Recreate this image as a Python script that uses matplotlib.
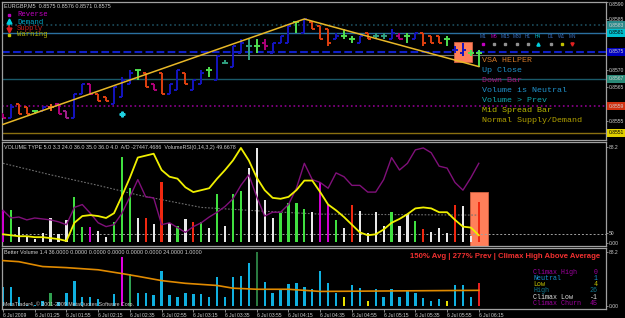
import matplotlib
matplotlib.use("Agg")
import matplotlib.pyplot as plt
import matplotlib.transforms as mtransforms
from matplotlib.patches import Rectangle

# canvas in pixels, as the terminal screenshot
W, H = 625, 318
FRAME = '#a0a0a0'
TXT = '#d0d0d0'
MONO = 'Liberation Mono'
NARROW = 'Liberation Sans'

# ---- price bars (EURGBP, M5) ----
high = [.8557, .8560, .8560, .8559, .8558, .8559, .8560, .8560, .8558, .8563,
        .8566, .8566, .8563, .8562, .8565, .8568, .8570, .8570, .8569, .8566,
        .8569, .8566, .8570, .8569, .8567, .8570, .8571, .8574, .8573, .8577,
        .8579, .8579, .8579, .8579, .8578, .8580, .8583, .8584, .8585, .8584,
        .8583, .8582, .8581, .8582, .8580, .8580, .8581, .8581, .8581, .8582,
        .8581, .8581, .8581, .8581, .8580, .8580, .8580, .8577, .8578, .8576,
        .8576]
low = [.8556, .8556, .8557, .8557, .8557, .8558, .8558, .8557, .8556, .8556,
       .8563, .8563, .8561, .8561, .8560, .8562, .8566, .8567, .8565, .8564,
       .8563, .8563, .8564, .8566, .8564, .8566, .8568, .8567, .8572, .8571,
       .8575, .8573, .8575, .8576, .8575, .8578, .8578, .8581, .8581, .8582,
       .8579, .8577, .8579, .8579, .8578, .8578, .8579, .8579, .8579, .8579,
       .8579, .8578, .8579, .8577, .8578, .8578, .8577, .8575, .8574, .8574,
       .8571]
opens = [.8557, .8556, .8560, .8559, .8558, .8558, .8559, .8560, .8558, .8556,
         .8563, .8566, .8563, .8562, .8560, .8562, .8566, .8570, .8569, .8566,
         .8569, .8563, .8564, .8569, .8564, .8566, .8570, .8567, .8572, .8571,
         .8575, .8577, .8577, .8578, .8575, .8578, .8578, .8584, .8581, .8584,
         .8583, .8582, .8579, .8580, .8579, .8578, .8581, .8580, .8580, .8579,
         .8580, .8580, .8579, .8581, .8580, .8580, .8579, .8576, .8575, .8575,
         .8575]
closes = [.8556, .8559, .8557, .8557, .8558, .8559, .8559, .8557, .8556, .8563,
          .8566, .8563, .8561, .8561, .8565, .8567, .8569, .8570, .8565, .8564,
          .8563, .8566, .8570, .8566, .8567, .8569, .8570, .8574, .8572, .8577,
          .8578, .8577, .8577, .8577, .8578, .8580, .8583, .8584, .8585, .8582,
          .8579, .8578, .8580, .8580, .8579, .8580, .8579, .8580, .8580, .8581,
          .8579, .8580, .8581, .8578, .8578, .8578, .8579, .8576, .8576, .8575,
          .8575]
bar_type = list("MBRRGBOMPBBMRRBBBGRMRBBRBBGBTBBTGMBBBGBRRRBGGBRTTBMGBRRRGBBGG")
bar_colors = {'B': '#1414c0', 'R': '#e04010', 'G': '#50e050', 'T': '#30a080',
              'M': '#b0007a', 'O': '#f06020', 'P': '#a0208a'}

trend_x = [0, 38, 60]
trend_y = [0.8554, 0.8585, 0.8571]

levels = [0.85832, 0.85809, 0.85753, 0.85743, 0.85674, 0.85594, 0.85515]
level_style = [('#1c4c5c', ':', 1.2), ('#2a70a0', '-', 1.0), ('#1020c8', '--', 1.5),
               ('#707070', '-', 0.8), ('#1a5a6a', '-', 1.0), ('#900090', ':', 1.2),
               ('#8a7010', '-', 1.0)]
level_tags = [(0.85832, '#2a8a8a'), (0.85809, '#00c0d0'), (0.85753, '#0000c0'),
              (0.85674, '#2a8a78'), (0.85594, '#d03010'), (0.85515, '#e0d000')]
price_ticks = [0.8555, 0.8565, 0.8570, 0.8585, 0.8590]

demand_idx = [15]
demand_px = [0.8557]

times = ["6 Jul 2009", "6 Jul 01:25", "6 Jul 01:55", "6 Jul 02:15", "6 Jul 02:35",
         "6 Jul 02:55", "6 Jul 03:15", "6 Jul 03:35", "6 Jul 03:55", "6 Jul 04:15",
         "6 Jul 04:35", "6 Jul 04:55", "6 Jul 05:15", "6 Jul 05:35", "6 Jul 05:55",
         "6 Jul 06:15"]

# ---- volume type pane ----
vol = [33, 33, 16, 5, 3, 9, 25, 8, 23, 47, 16, 16, 11, 5, 21, 89, 56, 25, 25, 19,
       62, 20, 17, 24, 21, 21, 15, 50, 17, 50, 53, 77, 98, 44, 25, 30, 41, 41, 34, 31,
       62, 39, 23, 15, 39, 32, 9, 31, 17, 31, 17, 29, 22, 14, 10, 15, 9, 39, 38, 6, 42]
vol_type = list("MGWWWWWWWGGMWWGGGWRWRWGWRGWGWGGWWWWGGGGWMMGWRWWWWGWWGRWWWRWWR")
vol_colors = {'W': '#e8e8e8', 'G': '#40e040', 'R': '#f02810', 'M': '#d000d0'}
vol_rsi = [8, 7, 6, 6, 5, 5, 4, 3, 1, 20, 27, 28, 27, 25, 30, 48, 67, 88, 90, 92,
           75, 68, 66, 57, 52, 54, 56, 66, 75, 85, 98, 85, 67, 54, 46, 45, 47, 54, 64, 64,
           52, 39, 33, 26, 18, 10, 7, 8, 13, 20, 24, 29, 35, 36, 35, 31, 31, 23, 16, 15, 7]
vol_ad = [33, 25, 26, 23, 25, 24, 23, 21, 18, 36, 39, 30, 20, 16, 18, 30, 47, 65, 47, 46,
          18, 20, 15, 10, 16, 20, 26, 31, 37, 45, 59, 70, 47, 27, 31, 31, 39, 56, 82, 65,
          62, 56, 72, 68, 59, 59, 52, 52, 65, 88, 75, 82, 96, 98, 93, 79, 77, 62, 54, 67, 82]
vol_ma_x = [0, 6, 12, 17, 25, 33, 40, 60]
vol_ma = [82, 70, 59, 49, 36, 32, 29, 28]
rsi_mid = 8.3

# ---- better volume pane ----
bv = [35, 35, 16, 2, 2, 9, 25, 7, 24, 47, 16, 16, 13, 0, 22, 91, 60, 25, 25, 20,
      65, 20, 16, 25, 22, 22, 16, 53, 16, 53, 55, 80, 100, 45, 25, 29, 40, 42, 35, 31,
      65, 42, 25, 16, 38, 33, 9, 31, 16, 31, 16, 29, 24, 15, 9, 13, 9, 38, 38, 16, 42]
bv_type = ['C'] * len(bv)
for i, t in [(6, 'G'), (15, 'M'), (16, 'G'), (32, 'D'), (43, 'Y'), (46, 'Y'), (56, 'Y'), (60, 'R')]:
    bv_type[i] = t
bv_colors = {'C': '#10b0e0', 'G': '#30a050', 'D': '#2a7a40', 'M': '#e000e0',
             'Y': '#e8e000', 'R': '#e82020'}
bv_ma_x = [0, 2, 5, 8, 12, 15, 17, 20, 23, 27, 29, 32, 36, 40, 60]
bv_ma = [84, 82, 73, 71, 67, 60, 55, 47, 42, 38, 33, 31, 31, 27, 29]
bv_names = ["Climax High", "Neutral", "Low", "High", "Climax Low", "Climax Churn"]
bv_counts = ['0', '1', '4', '26', '-1', '45']
bv_name_colors = ['#a000a0', '#1890d0', '#c8c800', '#107890', '#e0e0e0', '#a000a0']

N = len(high)
xs = list(range(N))
STEP = 7.93  # pixels per bar
X0 = 3       # pixel of first bar


def rect(x0, y0, x1, y1):
    return [x0 / W, 1 - y1 / H, (x1 - x0) / W, (y1 - y0) / H]


def style(ax):
    ax.set_facecolor('black')
    for s in ax.spines.values():
        s.set_color(FRAME)
        s.set_linewidth(0.9)
    ax.set_xlim((2 - X0) / STEP, (606 - X0) / STEP)
    ax.yaxis.tick_right()
    ax.tick_params(axis='y', colors=FRAME, labelcolor=TXT, labelsize=3.6, length=1.5, width=0.6, pad=0.5)
    ax.set_xticks([])


fig = plt.figure(figsize=(W / 100, H / 100), dpi=100, facecolor='black')

# main price pane
ax = fig.add_axes(rect(2, 2, 606, 140))
style(ax)
p_top = 0.8590
p_bot = 0.8590 - 138 * 0.0005 / 17
ax.set_ylim(p_bot, p_top)
ax.set_yticks(price_ticks)
ax.set_yticklabels(['%.4f' % p for p in price_ticks], family=NARROW)
ax.get_yticklabels()[-1].set_va('top')

for lv, (c, ls, lw) in zip(levels, level_style):
    ax.axhline(lv, color=c, ls=ls, lw=lw, zorder=1)

ax.add_patch(Rectangle((56.9, 0.85724), 2.2, 0.00058, fc='#ff7f5a', ec='#d06040', lw=0.6, zorder=2))

cols = [bar_colors[t] for t in bar_type]
ax.vlines(xs, low, high, colors=cols, lw=1.4, zorder=3)
ax.hlines(opens, [x - 0.38 for x in xs], xs, colors=cols, lw=1.4, zorder=3)
ax.hlines(closes, xs, [x + 0.38 for x in xs], colors=cols, lw=1.4, zorder=3)
ax.plot(trend_x, trend_y, color='#e8b828', lw=1.1, zorder=4)
ax.plot(demand_idx, demand_px, ls='none', marker='P', ms=3.5, color='#20d0e0', zorder=4)

bt = mtransforms.blended_transform_factory(ax.transAxes, ax.transData)
for lv, c in level_tags:
    tc = 'black' if c in ('#00c0d0', '#e0d000') else '#d0d0d0'
    ax.text(1.004, lv, '%.4f' % lv, transform=bt, ha='left', va='center', fontsize=3.6,
            color=tc, family=NARROW, clip_on=False, zorder=6,
            bbox=dict(boxstyle='square,pad=0.3', fc=c, ec='none'))

# volume type pane
av = fig.add_axes(rect(2, 142, 606, 246))
style(av)
av.set_ylim(-4.2, 104.2)
av.set_yticks([99, rsi_mid + 1.5, -1])
av.set_yticklabels(['88.2', '50', '0.00'], family=NARROW)
av.add_patch(Rectangle((58.95, -5), 2.15, 57, fc='#ff7f5a', ec='#d06040', lw=0.6, zorder=1))
av.axhline(rsi_mid, color='#a0a0a0', ls=(0, (2, 2)), lw=0.7, zorder=1)
av.plot(vol_ma_x, vol_ma, color='#707070', ls=(0, (1.5, 1.5)), lw=0.8, zorder=2)
av.bar(xs, vol, width=0.28, color=[vol_colors[t] for t in vol_type], zorder=3)
av.plot(xs, vol_ad, color='#80107a', lw=1.0, zorder=4)
av.plot(xs, vol_rsi, color='#f0f000', lw=1.3, zorder=5)

# better volume pane
ab = fig.add_axes(rect(2, 248, 606, 309))
style(ab)
ab.set_ylim(-5.5, 107.3)
ab.set_yticks([100, 0])
ab.set_yticklabels(['88.2', '0.00'], family=NARROW)
ab.bar(xs, bv, width=0.3, color=[bv_colors[t] for t in bv_type], zorder=2)
ab.plot(bv_ma_x, bv_ma, color='#e08a00', lw=1.2, zorder=3)
ab.set_xticks([4 * k for k in range(len(times))])
ab.set_xticklabels(times, ha='left', family=NARROW)
ab.tick_params(axis='x', colors=FRAME, labelcolor=TXT, labelsize=3.6, length=2, width=0.6, pad=1)

# overlay in pixel space for captions and legends
ov = fig.add_axes([0, 0, 1, 1])
ov.set_xlim(0, W)
ov.set_ylim(H, 0)
ov.axis('off')
ov.patch.set_alpha(0)

ov.text(4, 6, "EURGBP,M5  0.8575 0.8576 0.8571 0.8575", fontsize=4.0, color=TXT, va='center', family=NARROW)
legend_names = ["Reverse", "Demand", "Supply", "Warning"]
legend_cols = ['#c000c0', '#00a8c8', '#c82020', '#b0b000']
legend_y = [15, 22, 28.5, 35]
for name, c, y in zip(legend_names, legend_cols, legend_y):
    ov.text(17, y, name, fontsize=5.2, color=c, va='center', family=MONO)
ov.plot(9, 15, 's', ms=1.6, color='#c000c0')
ov.plot(9, 21, '^', ms=3.5, color='#00d0e0')
ov.plot([9, 9], [21, 24.5], color='#00d0e0', lw=1.2)
ov.plot(9, 29.5, 'v', ms=3.5, color='#e02020')
ov.plot([9, 9], [26, 29.5], color='#e02020', lw=1.2)
ov.plot(9, 35, 's', ms=1.6, color='#c0c000')

tf = ["M1", "M5", "M15", "M30", "H1", "H4", "D1", "W1", "MN"]
tf_x = [483, 494, 505, 517, 528, 538, 551, 562, 572]
tf_col = ['#3a70c0', '#c000c0', '#3a70c0', '#3a70c0', '#3a70c0', '#00c8d8', '#3a70c0', '#3a70c0', '#3a70c0']
tf_mark = ['#c000c0', '#909090', '#909090', '#909090', '#909090', '#00d0e0', '#909090', '#c0c000', '#e02020']
for t, x, c, m in zip(tf, tf_x, tf_col, tf_mark):
    ov.text(x, 36, t, fontsize=3.4, color=c, ha='center', va='center', family=NARROW)
    mk = '^' if t == 'H4' else ('v' if t == 'MN' else 's')
    ov.plot(x, 44, mk, ms=2.3 if mk != 's' else 1.5, color=m)

vsa = ["VSA HELPER", "Up Close", "Down Bar", "Volume is Neutral", "Volume > Prev",
       "Mid Spread Bar", "Normal Supply/Demand"]
vsa_col = ['#d07828', '#2090c8', '#a01878', '#2090c8', '#10a8b0', '#b8b800', '#b0a000']
for k, (t, c) in enumerate(zip(vsa, vsa_col)):
    ov.text(482, 61 + 9.9 * k, t, fontsize=6, color=c, va='center', family=MONO)

ov.text(4, 148, "VOLUME TYPE 5.0 3.3 24.0 36.0 35.0 36.0 4.0  A/D -27447.4686  VolumeRSI(0,14,3,2) 49.6678",
        fontsize=3.9, color=TXT, va='center', family=NARROW)
ov.text(4, 253, "Better Volume 1.4 36.0000 0.0000 0.0000 0.0000 0.0000 0.0000 24.0000 1.0000",
        fontsize=3.9, color=TXT, va='center', family=NARROW)
ov.text(3, 304.5, "MetaTrader4, \u00a9 2001-2009 MetaQuotes Software Corp.",
        fontsize=3.8, color=TXT, va='center', family=NARROW)
ov.text(600, 257, "150% Avg | 277% Prev | Climax High Above Average", fontsize=5.6,
        color='#f03030', ha='right', va='center', weight='bold', family=NARROW)
for k, (n, v, c) in enumerate(zip(bv_names, bv_counts, bv_name_colors)):
    y = 272 + 6.3 * k
    ov.text(533, y, n, fontsize=4.8, color=c, va='center', family=MONO)
    ov.text(598, y, v, fontsize=4.8, color=c, va='center', ha='right', family=MONO)

fig.savefig("out.png", dpi=100, facecolor='black')
